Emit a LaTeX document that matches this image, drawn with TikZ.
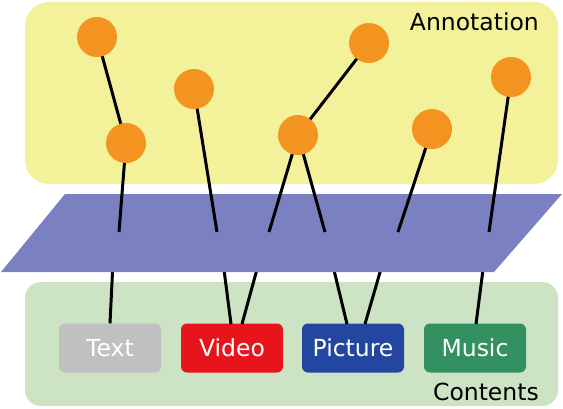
\documentclass[tikz,border=0pt]{standalone}
\usepackage{fontspec}
\setmainfont{DejaVu Sans}
\definecolor{annyellow}{RGB}{243,242,155}
\definecolor{congreen}{RGB}{204,228,196}
\definecolor{planeblue}{RGB}{122,128,192}
\definecolor{dotorange}{RGB}{243,147,32}
\definecolor{boxgray}{RGB}{192,192,192}
\definecolor{boxred}{RGB}{232,20,28}
\definecolor{boxblue}{RGB}{35,70,160}
\definecolor{boxgreen}{RGB}{51,144,96}
\tikzset{
  dot/.style={circle,fill=dotorange,minimum size=40pt,inner sep=0pt},
  link/.style={line width=3pt,black},
  itembox/.style={rounded corners=6pt,minimum width=102pt,minimum height=49pt,inner sep=0pt,text=white,font=\fontsize{23.5}{28}\selectfont},
  lbl/.style={font=\fontsize{23.5}{28}\selectfont,inner sep=0pt,anchor=base east}
}
\begin{document}
\begin{tikzpicture}[x=1pt,y=-1pt]
\useasboundingbox (0,0) rectangle (563,408);
% regions
\fill[annyellow,rounded corners=24pt] (25,2) rectangle (558,184);
\fill[congreen,rounded corners=16pt] (25,282) rectangle (558,406);
\node[lbl] (ann) at (539,30) {Annotation};
\node[lbl] (con) at (539,400) {Contents};
% item boxes
\node[itembox,fill=boxgray] (text) at (110,348) {Text};
\node[itembox,fill=boxred] (video) at (232,348) {Video};
\node[itembox,fill=boxblue] (picture) at (353,348) {Picture};
\node[itembox,fill=boxgreen] (music) at (475,348) {Music};
% lower link starts (hidden under plane)
\coordinate (l1) at (113,262);
\coordinate (l2) at (223,262);
\coordinate (l3) at (259,262);
\coordinate (l4) at (332,262);
\coordinate (l5) at (383,262);
\coordinate (l6) at (484,262);
\draw[link] (l1) -- (text.north -| 110,0);
\draw[link] (l2) -- (231,324);
\draw[link] (l3) -- (242,324);
\draw[link] (l4) -- (347,324);
\draw[link] (l5) -- (365,324);
\draw[link] (l6) -- (476,324);
% plane
\fill[planeblue] (65,194) -- (562,194) -- (494,272) -- (1,272) -- cycle;
% annotation points
\coordinate (p1) at (119,232);
\coordinate (p2) at (217,232);
\coordinate (p3) at (269,232);
\coordinate (p4) at (325,232);
\coordinate (p5) at (398,232);
\coordinate (p6) at (489,232);
\coordinate (c1) at (97,37);
\coordinate (c2) at (126,143);
\coordinate (c3) at (194,89);
\coordinate (c4) at (298,135);
\coordinate (c5) at (369,43);
\coordinate (c6) at (432,129);
\coordinate (c7) at (511,77);
\draw[link] (c1) -- (c2) -- (p1);
\draw[link] (c3) -- (p2);
\draw[link] (p3) -- (c4) -- (p4);
\draw[link] (c4) -- (c5);
\draw[link] (c6) -- (p5);
\draw[link] (c7) -- (p6);
\foreach \c in {c1,c2,c3,c4,c5,c6,c7}
  \node[dot] (n\c) at (\c) {};
\end{tikzpicture}
\end{document}
